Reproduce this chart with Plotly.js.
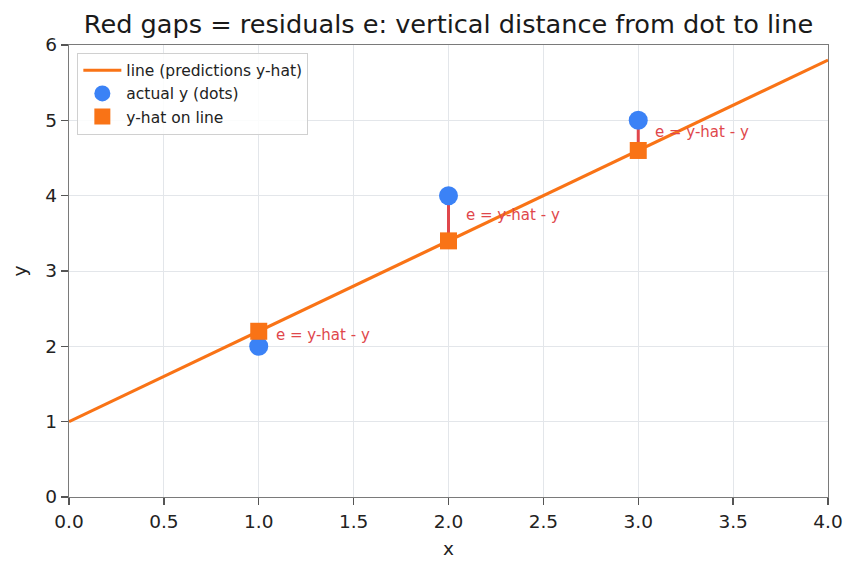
<!DOCTYPE html>
<html>
<head>
<meta charset="utf-8">
<script src="https://cdn.plot.ly/plotly-3.0.1.min.js"></script>
<style>
  html, body { margin: 0; padding: 0; background: #ffffff; }
  #chart { width: 859px; height: 573px; }
</style>
</head>
<body>
<div id="chart"></div>
<script>
// Fitted line endpoints
const lineX = [0, 4];
const lineY = [1.0, 5.8];

// Observed points and their predictions on the line
const pointX = [1, 2, 3];
const actualY = [2, 4, 5];
const predY = [2.2, 3.4, 4.6];

const residualLabel = 'e = y-hat - y';

const orange = '#f97316';
const blue = '#3b82f6';
const red = '#e0474c';
const font = 'DejaVu Sans, sans-serif';

const traces = [];

traces.push({
  x: lineX, y: lineY, mode: 'lines', type: 'scatter',
  name: 'line (predictions y-hat)',
  line: { color: orange, width: 3.2 },
  hoverinfo: 'skip'
});

// Vertical residual segments
pointX.forEach((x, i) => {
  traces.push({
    x: [x, x], y: [actualY[i], predY[i]], mode: 'lines', type: 'scatter',
    line: { color: red, width: 3 }, showlegend: false, hoverinfo: 'skip'
  });
});

traces.push({
  x: pointX, y: actualY, mode: 'markers', type: 'scatter',
  name: 'actual y (dots)',
  marker: { color: blue, size: 19, symbol: 'circle', line: { width: 0 } }
});

traces.push({
  x: pointX, y: predY, mode: 'markers', type: 'scatter',
  name: 'y-hat on line',
  marker: { color: orange, size: 17, symbol: 'square', line: { width: 0 } }
});

const annotations = pointX.map((x, i) => ({
  x: x + 0.08, y: (actualY[i] + predY[i]) / 2,
  xref: 'x', yref: 'y', text: residualLabel, showarrow: false,
  xanchor: 'left', yanchor: 'middle', yshift: 3.5,
  font: { family: font, size: 15, color: red }
}));

const axisCommon = {
  showgrid: true, gridcolor: '#e3e6ea', gridwidth: 1,
  zeroline: false, showline: true, mirror: true,
  linecolor: '#7a7a7a', linewidth: 1.3,
  ticks: 'outside', ticklen: 7, tickwidth: 1.3, tickcolor: '#555',
  tickfont: { family: font, size: 18.5, color: '#222' }
};

const layout = {
  width: 859, height: 573,
  margin: { l: 69, r: 31, t: 45, b: 76 },
  paper_bgcolor: '#ffffff', plot_bgcolor: '#ffffff',
  font: { family: font, color: '#222' },
  title: {
    text: 'Red gaps = residuals e: vertical distance from dot to line',
    font: { family: font, size: 25.6, color: '#1a1a1a' },
    xref: 'paper', x: 0.5, xanchor: 'center', y: 0.958, yanchor: 'middle'
  },
  xaxis: Object.assign({}, axisCommon, {
    range: [0, 4], dtick: 0.5, tick0: 0, tickformat: '.1f',
    title: { text: 'x', font: { family: font, size: 18.5, color: '#222' }, standoff: 11 }
  }),
  yaxis: Object.assign({}, axisCommon, {
    range: [0, 6], dtick: 1, tick0: 0,
    title: { text: 'y', font: { family: font, size: 18.5, color: '#222' }, standoff: 13 }
  }),
  legend: {
    x: 0.011, y: 0.983, xanchor: 'left', yanchor: 'top',
    bgcolor: 'rgba(255,255,255,0.85)', bordercolor: '#d0d0d0', borderwidth: 1,
    font: { family: font, size: 15.5, color: '#222' },
    tracegroupgap: 0, itemwidth: 38
  },
  annotations: annotations,
  showlegend: true
};

Plotly.newPlot('chart', traces, layout, { displayModeBar: false, staticPlot: true });
</script>
</body>
</html>
